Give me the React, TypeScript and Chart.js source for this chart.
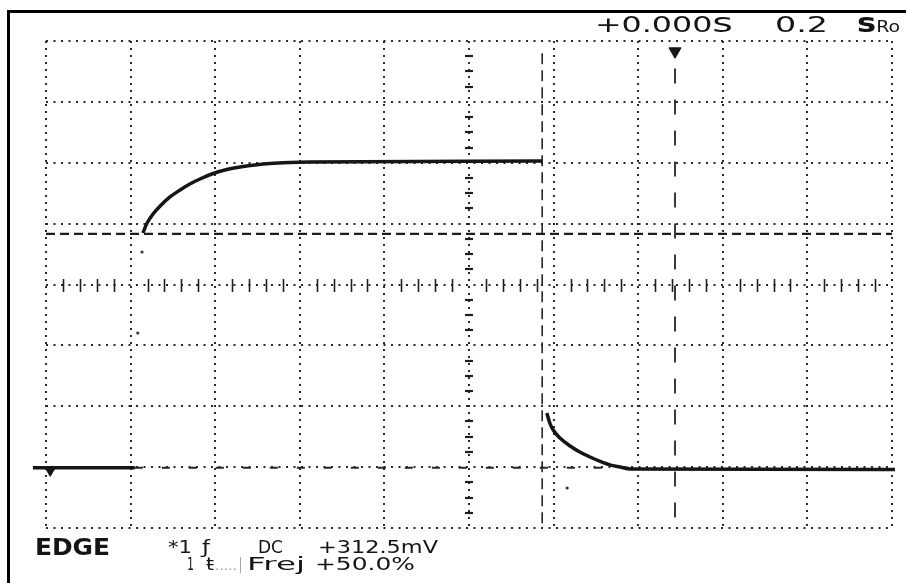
import React, { useEffect, useLayoutEffect, useRef } from "react";
import { Chart, registerables } from "chart.js";

Chart.register(...registerables);

// Horizontal: seconds (0.2 s/div). Vertical: screen divisions.
const xGridTicks = [-1.0, -0.8, -0.6, -0.4, -0.2, 0, 0.2, 0.4, 0.6, 0.8, 1.0];
const yGridTicks = [-4, -3, -2, -1, 0, 1, 2, 3, 4];

// Captured waveform; null marks the undrawn fast edges.
const traceTime = [
  -1.031, -0.79, -0.78,
  -0.771, -0.761, -0.747, -0.73, -0.707, -0.683, -0.66, -0.636, -0.608,
  -0.577, -0.541, -0.506, -0.47, -0.423, -0.376, 0.173, 0.178,
  0.184, 0.191, 0.199, 0.215, 0.239, 0.262, 0.286, 0.31, 0.333, 0.357, 0.381, 1.007,
];
const traceLevel = [
  -3.01, -3.01, null,
  0.846, 1.01, 1.158, 1.29, 1.438, 1.553, 1.651, 1.733, 1.815,
  1.881, 1.93, 1.963, 1.988, 2.004, 2.012, 2.029, null,
  -2.111, -2.275, -2.39, -2.522, -2.653, -2.752, -2.834, -2.905, -2.962, -2.998, -3.03, -3.04,
];

// Isolated samples caught during the edges
const strayTime = [-0.773, -0.783, 0.232];
const strayLevel = [0.534, -0.797, -3.343];

// Cursors and reference markers
const levelCursor = 0.83;
const timeCursor = 0.173;
const triggerTime = 0.487;
const groundLevel = -3.01;
const groundRefSpan = [-0.79, 0.4];
const triggerMarkLevel = 3.83;
const groundMarkTime = -0.99;

const pts = (xs: number[], ys: (number | null)[]) => xs.map((x, i) => ({ x, y: ys[i] }));

const centreTicks = {
  id: "centreTicks",
  beforeDatasetsDraw(chart: any) {
    const { ctx, scales } = chart;
    const xs = scales.x;
    const ys = scales.y;
    const x0 = Math.round(xs.getPixelForValue(0));
    const y0 = Math.round(ys.getPixelForValue(0));
    ctx.save();
    ctx.strokeStyle = "#1e1e1e";
    // five sub-ticks per division on the horizontal centre line
    ctx.lineWidth = 1.6;
    for (let i = 0; i <= 50; i++) {
      if (i % 5 === 0) continue;
      const px = Math.round(xs.getPixelForValue(-1 + i * 0.04)) + 0.5;
      ctx.beginPath();
      ctx.moveTo(px, y0 - 6);
      ctx.lineTo(px, y0 + 7);
      ctx.stroke();
    }
    // four sub-ticks per division on the vertical centre line
    ctx.lineWidth = 2.2;
    for (let i = 0; i <= 32; i++) {
      if (i % 4 === 0) continue;
      const py = Math.round(ys.getPixelForValue(-4 + i * 0.25));
      ctx.beginPath();
      ctx.moveTo(x0 - 4, py);
      ctx.lineTo(x0 + 4, py);
      ctx.stroke();
    }
    ctx.restore();
  },
};

function FitText(props: {
  x: number;
  base: number;
  w: number;
  size: number;
  weight?: string | number;
  color?: string;
  children: React.ReactNode;
}) {
  const ref = useRef<HTMLDivElement>(null);
  useLayoutEffect(() => {
    const el = ref.current;
    if (!el) return;
    el.style.transform = "none";
    const nat = el.getBoundingClientRect().width;
    if (nat > 0) el.style.transform = `scaleX(${props.w / nat})`;
  });
  return (
    <div
      ref={ref}
      style={{
        position: "absolute",
        left: props.x,
        top: props.base - 0.846 * props.size,
        fontSize: props.size,
        lineHeight: `${props.size}px`,
        fontFamily: "'DejaVu Sans', sans-serif",
        fontWeight: props.weight ?? "normal",
        color: props.color ?? "#141414",
        whiteSpace: "nowrap",
        transformOrigin: "0 0",
      }}
    >
      {props.children}
    </div>
  );
}

export default function App() {
  const canvasRef = useRef<HTMLCanvasElement>(null);

  useEffect(() => {
    const canvas = canvasRef.current;
    if (!canvas) return;
    const ink = "#161616";
    const chart = new Chart(canvas, {
      type: "line",
      data: {
        datasets: [
          {
            data: pts(traceTime, traceLevel),
            borderColor: ink,
            borderWidth: 3.5,
            pointRadius: 0,
            cubicInterpolationMode: "monotone",
            spanGaps: false,
            clip: false,
          } as any,
          {
            data: pts(strayTime, strayLevel),
            showLine: false,
            pointRadius: 1.6,
            pointBackgroundColor: "#333",
            pointBorderWidth: 0,
          },
          {
            data: [
              { x: triggerTime, y: triggerMarkLevel },
              { x: groundMarkTime, y: groundLevel - 0.06 },
            ],
            showLine: false,
            pointStyle: "triangle",
            rotation: 180,
            pointRadius: [7, 5],
            pointBackgroundColor: ink,
            pointBorderColor: ink,
            pointBorderWidth: 1,
          } as any,
          {
            data: [
              { x: -1, y: levelCursor },
              { x: 1, y: levelCursor },
            ],
            borderColor: "#1e1e1e",
            borderWidth: 2.2,
            borderDash: [9, 5],
            pointRadius: 0,
          },
          {
            data: [
              { x: timeCursor, y: 3.8 },
              { x: timeCursor, y: -4 },
            ],
            borderColor: "#262626",
            borderWidth: 1.6,
            borderDash: [11, 6],
            pointRadius: 0,
          },
          {
            data: [
              { x: triggerTime, y: 3.55 },
              { x: triggerTime, y: -4 },
            ],
            borderColor: "#262626",
            borderWidth: 1.8,
            borderDash: [15, 16],
            pointRadius: 0,
          },
          {
            data: [
              { x: groundRefSpan[0], y: groundLevel },
              { x: groundRefSpan[1], y: groundLevel },
            ],
            borderColor: "#262626",
            borderWidth: 2,
            borderDash: [8, 19],
            pointRadius: 0,
          },
        ],
      },
      options: {
        animation: false,
        responsive: false,
        devicePixelRatio: 1,
        events: [],
        layout: { padding: { left: 46, top: 41, right: 14, bottom: 55 } },
        plugins: { legend: { display: false }, tooltip: { enabled: false } },
        scales: {
          x: {
            type: "linear",
            min: -1,
            max: 1,
            afterBuildTicks: (s: any) => {
              s.ticks = xGridTicks.map((value) => ({ value }));
            },
            afterFit: (s: any) => {
              s.height = 0;
            },
            ticks: { display: false },
            grid: { color: "#2a2a2a", lineWidth: 2, drawTicks: false },
            border: { display: false, dash: [2, 5] },
          },
          y: {
            type: "linear",
            min: -4,
            max: 4,
            afterBuildTicks: (s: any) => {
              s.ticks = yGridTicks.map((value) => ({ value }));
            },
            afterFit: (s: any) => {
              s.width = 0;
            },
            ticks: { display: false },
            grid: { color: "#2a2a2a", lineWidth: 2, drawTicks: false },
            border: { display: false, dash: [2, 5.5] },
          },
        },
      } as any,
      plugins: [centreTicks],
    });
    return () => chart.destroy();
  }, []);

  return (
    <div
      style={{
        position: "absolute",
        left: 0,
        top: 0,
        width: 906,
        height: 583,
        background: "#fff",
        overflow: "hidden",
      }}
    >
      <canvas ref={canvasRef} width={906} height={583} style={{ position: "absolute", left: 0, top: 0 }} />
      <div
        style={{
          position: "absolute",
          left: 7,
          top: 10,
          width: 899,
          height: 573,
          borderTop: "3px solid #000",
          borderLeft: "3px solid #000",
          boxSizing: "border-box",
        }}
      />
      <FitText x={595} base={33} w={138} size={21}>
        +0.000<span style={{ fontSize: "1.25em", lineHeight: 0 }}>s</span>
      </FitText>
      <FitText x={775} base={33} w={53} size={21}>
        0.2
      </FitText>
      <FitText x={857} base={33} w={43} size={16}>
        <span style={{ fontSize: "1.7em", fontWeight: "bold", lineHeight: 0 }}>s</span>Ro
      </FitText>

      <FitText x={35} base={555} w={75} size={23} weight="bold">
        EDGE
      </FitText>
      <FitText x={168} base={553} w={24} size={18}>
        *1
      </FitText>
      <FitText x={202} base={553} w={8} size={18}>
        ƒ
      </FitText>
      <FitText x={258} base={553} w={25} size={18}>
        DC
      </FitText>
      <FitText x={318} base={553} w={120} size={18}>
        +312.5mV
      </FitText>

      <FitText x={187} base={570} w={7} size={17}>
        1
      </FitText>
      <FitText x={206} base={570} w={8} size={17}>
        ŧ
      </FitText>
      <FitText x={215} base={570} w={22} size={12} color="#9a9a9a">
        .....
      </FitText>
      <FitText x={239} base={570} w={3} size={15} color="#8a8a8a">
        |
      </FitText>
      <FitText x={247} base={570} w={58} size={17}>
        Frej
      </FitText>
      <FitText x={315} base={570} w={100} size={17}>
        +50.0%
      </FitText>
    </div>
  );
}
